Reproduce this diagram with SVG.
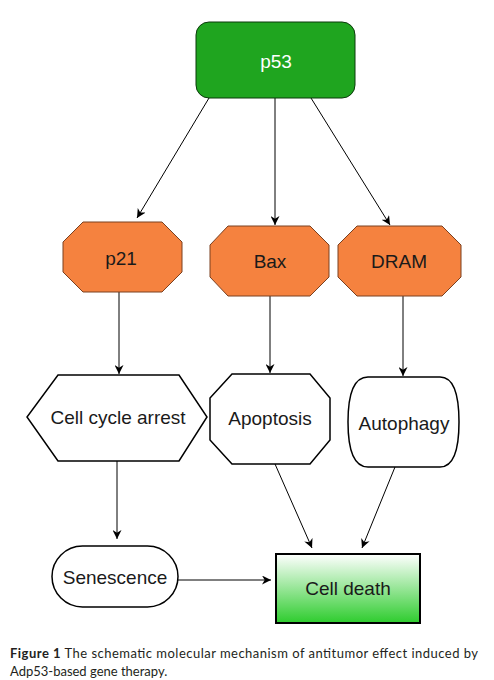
<svg xmlns="http://www.w3.org/2000/svg" width="494" height="680" viewBox="0 0 494 680">
<style>
.t{font-family:"Liberation Sans",Arial,sans-serif;font-size:19px;text-anchor:middle;dominant-baseline:central}
.dark{fill:#1a1a1a}
.orange{fill:#f5823f;stroke:#7a4020;stroke-width:1}
.white{fill:#ffffff;stroke:#000;stroke-width:1.5}
.c{stroke:#000;stroke-width:1;fill:none;marker-end:url(#ah)}
.cap{font-family:Lato,"Open Sans",sans-serif;font-size:13px;fill:#231f20}
</style>
<defs>
<marker id="ah" viewBox="0 0 10 10" refX="10" refY="5" markerWidth="9" markerHeight="9" markerUnits="userSpaceOnUse" orient="auto">
<path d="M0,0 L10,5 L0,10 L3,5 Z" fill="#000"/>
</marker>
<linearGradient id="gd" x1="0" y1="0" x2="0" y2="1">
<stop offset="0" stop-color="#ffffff"/>
<stop offset="1" stop-color="#2ecc2e"/>
</linearGradient>
</defs>
<rect width="494" height="680" fill="#fff"/>
<g id="connectors">
<line class="c" x1="209" y1="98" x2="137" y2="218"/>
<line class="c" x1="275" y1="98" x2="275" y2="225"/>
<line class="c" x1="311" y1="98" x2="390" y2="225"/>
<line class="c" x1="119" y1="292" x2="119" y2="374"/>
<line class="c" x1="270" y1="296" x2="270" y2="373"/>
<line class="c" x1="403" y1="296" x2="403" y2="376"/>
<line class="c" x1="117" y1="461" x2="117" y2="539"/>
<line class="c" x1="275" y1="464" x2="312" y2="548"/>
<line class="c" x1="395" y1="467" x2="362" y2="548"/>
<line class="c" x1="178" y1="580" x2="271" y2="580"/>
</g>
<g id="p53">
<rect x="196" y="22" width="159" height="76" rx="13" fill="#1fa51f" stroke="#0b3a0b" stroke-width="1"/>
<text class="t" x="276" y="61" fill="#fff">p53</text>
</g>
<g id="p21">
<polygon class="orange" points="83,222 162,222 182,242 182,272 162,292 83,292 63,272 63,242"/>
<text class="t dark" x="121" y="258">p21</text>
</g>
<g id="Bax">
<polygon class="orange" points="228,226 310,226 329,245 329,277 310,296 228,296 210,277 210,245"/>
<text class="t dark" x="270" y="261">Bax</text>
</g>
<g id="DRAM">
<polygon class="orange" points="357,226 442,226 461,245 461,277 442,296 357,296 338,277 338,245"/>
<text class="t dark" x="399" y="261">DRAM</text>
</g>
<g id="cellcycle">
<polygon class="white" points="58,375 179,375 207,417 179,461 58,461 27,417"/>
<text class="t dark" x="118" y="417">Cell cycle arrest</text>
</g>
<g id="apoptosis">
<polygon class="white" points="232,374 310,374 330,398 330,440 310,464 232,464 210,440 210,398"/>
<text class="t dark" x="270" y="418">Apoptosis</text>
</g>
<g id="autophagy">
<path class="white" d="M368,377 H440 Q459,377 459,422 Q459,467 440,467 H368 Q348,467 348,422 Q348,377 368,377 Z"/>
<text class="t dark" x="404" y="423">Autophagy</text>
</g>
<g id="senescence">
<rect class="white" x="52" y="546" width="126" height="61" rx="30.5"/>
<text class="t dark" x="115" y="577">Senescence</text>
</g>
<g id="celldeath">
<rect x="276" y="554" width="144" height="69" fill="url(#gd)" stroke="#000" stroke-width="2"/>
<text class="t dark" x="348" y="588">Cell death</text>
</g>
<g id="caption">
<text class="cap" x="10" y="658" textLength="468" lengthAdjust="spacing"><tspan font-weight="bold">Figure 1</tspan> The schematic molecular mechanism of antitumor effect induced by</text>
<text class="cap" x="10" y="676">Adp53-based gene therapy.</text>
</g>
</svg>
